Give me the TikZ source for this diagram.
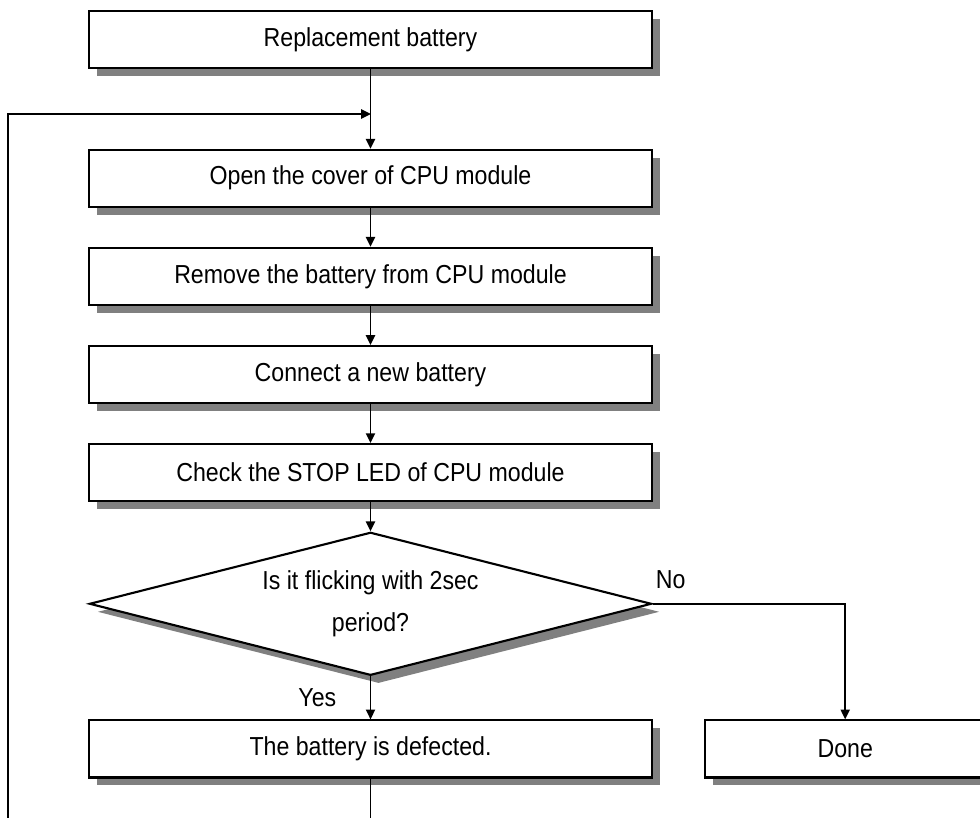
\documentclass[tikz,border=0pt]{standalone}
\usepackage{fontspec}
\setmainfont[FakeStretch=0.89]{Liberation Sans}
\usetikzlibrary{shapes.geometric,arrows.meta,positioning,shadows}
\tikzset{
  box/.style  = {rectangle, draw=black, line width=1.5pt, fill=white,
                 minimum width=14.075cm, minimum height=1.425cm,
                 font=\fontsize{18.5}{22}\selectfont,
                 drop shadow={shadow xshift=0.2cm, shadow yshift=-0.2cm,
                              fill=black!50, opacity=1}},
  dbox/.style = {diamond, aspect=3.93, draw=black, line width=1.5pt, fill=white,
                 minimum width=14.05cm, minimum height=3.575cm,
                 align=center, inner sep=0pt,
                 font=\fontsize{18.5}{29.8}\selectfont,
                 drop shadow={shadow xshift=0.2cm, shadow yshift=-0.2cm,
                              fill=black!50, opacity=1}},
  arr/.style  = {-{Triangle[length=7pt,width=6.5pt]}, line width=1.3pt},
  lbl/.style  = {font=\fontsize{18.5}{22}\selectfont, inner sep=0pt},
}
\begin{document}
\begin{tikzpicture}[x=0.025cm, y=-0.025cm]

\useasboundingbox (0,0) rectangle (980,817);
\clip (0,0) rectangle (980,817);

%% main column
\node[box] (repl) at (370.5,39.5) {Replacement battery};
\node[box, below=1.99cm of repl]  (open)   {Open the cover of CPU module};
\node[box, below=0.975cm of open] (remove) {Remove the battery from CPU module};
\node[box, below=0.975cm of remove] (conn) {Connect a new battery};
\node[box, below=0.975cm of conn] (check)  {Check the STOP LED of CPU module};

%% decision
\node[dbox, below=0.725cm of check] (flick) {Is it flicking with 2sec\\period?};

%% results
\node[box, below=1.075cm of flick] (defect) {The battery is defected.};
\node[box, right=1.275cm of defect, minimum width=7cm] (done) {Done};

%% loop ends
\coordinate (loopin)  at (371,114);
\coordinate (loopbot) at (8,830);

\draw[arr] (repl)   -- (open);
\draw[arr] (open)   -- (remove);
\draw[arr] (remove) -- (conn);
\draw[arr] (conn)   -- (check);
\draw[arr] (check)  -- (flick);
\draw[arr] (flick)  -- (defect);
\draw[arr] (flick.east) -| (done.north);
\draw[arr] (loopbot) |- (loopin);
\draw[line width=1.3pt] (defect.south) -- (defect.south |- loopbot);

%% branch labels
\node[lbl, anchor=base west] (nolbl)  at ([shift={(3,-15)}]flick.east)  {No};
\node[lbl, anchor=base east] (yeslbl) at ([shift={(-34,30)}]flick.south) {Yes};

\end{tikzpicture}
\end{document}
